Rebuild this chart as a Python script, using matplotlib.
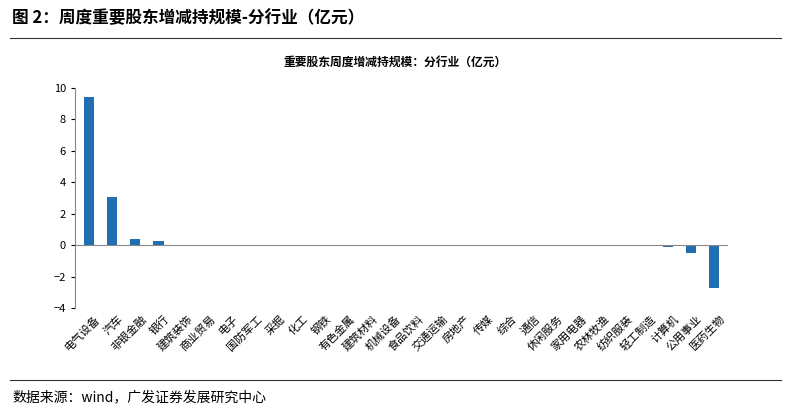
import matplotlib
matplotlib.use("Agg")
import matplotlib.pyplot as plt
from matplotlib.lines import Line2D

plt.rcParams['font.family'] = ['Noto Sans CJK SC', 'DejaVu Sans']

categories = ["电气设备","汽车","非银金融","银行","建筑装饰","商业贸易","电子","国防军工","采掘","化工",
              "钢铁","有色金属","建筑材料","机械设备","食品饮料","交通运输","房地产","传媒","综合","通信",
              "休闲服务","家用电器","农林牧渔","纺织服装","轻工制造","计算机","公用事业","医药生物"]
values = [9.4,3.05,0.4,0.25,0,0,0,0,0,0,0,0,0,0,0,0,0,0,0,0,0,0,0,0,0,-0.15,-0.5,-2.75]

fig = plt.figure(figsize=(7.91,4.17), dpi=100)
ax = fig.add_axes([75/791, 1-308/417, (728-75)/791, (308-88)/417])
x = range(len(categories))
ax.bar(x, values, width=0.45, color='#1f6fb2')
ax.set_ylim(-4, 10)
ax.set_xlim(-0.6, len(categories)-0.4)
ax.set_yticks(range(-4, 11, 2))
ax.tick_params(axis='y', labelsize=8, length=3)
ax.tick_params(axis='x', length=0)
ax.set_xticks(list(x))
ax.set_xticklabels([])
for s in ['top','right','bottom']:
    ax.spines[s].set_visible(False)
ax.spines['left'].set_color('#888888')
ax.axhline(0, color='#888888', lw=0.8)
for i, c in enumerate(categories):
    ax.annotate(c, xy=(i, -4), xycoords='data', xytext=(4, -4), textcoords='offset points',
                rotation=45, ha='right', va='top', fontsize=8, rotation_mode='anchor')
fig.text(0.5, 1-62/417, "重要股东周度增减持规模：分行业（亿元）", ha='center', va='center', fontsize=8.5, fontweight='bold')
fig.text(12/791, 1-18/417, "图 2：周度重要股东增减持规模-分行业（亿元）", ha='left', va='center', fontsize=12, fontweight='bold')
fig.add_artist(Line2D([10/791, 781/791], [1-38/417]*2, color='#333333', lw=0.8))
fig.add_artist(Line2D([10/791, 781/791], [1-380/417]*2, color='#333333', lw=0.8))
fig.text(12/791, 1-397/417, "数据来源：wind，广发证券发展研究中心", ha='left', va='center', fontsize=10)
fig.savefig("out.png", dpi=100)
